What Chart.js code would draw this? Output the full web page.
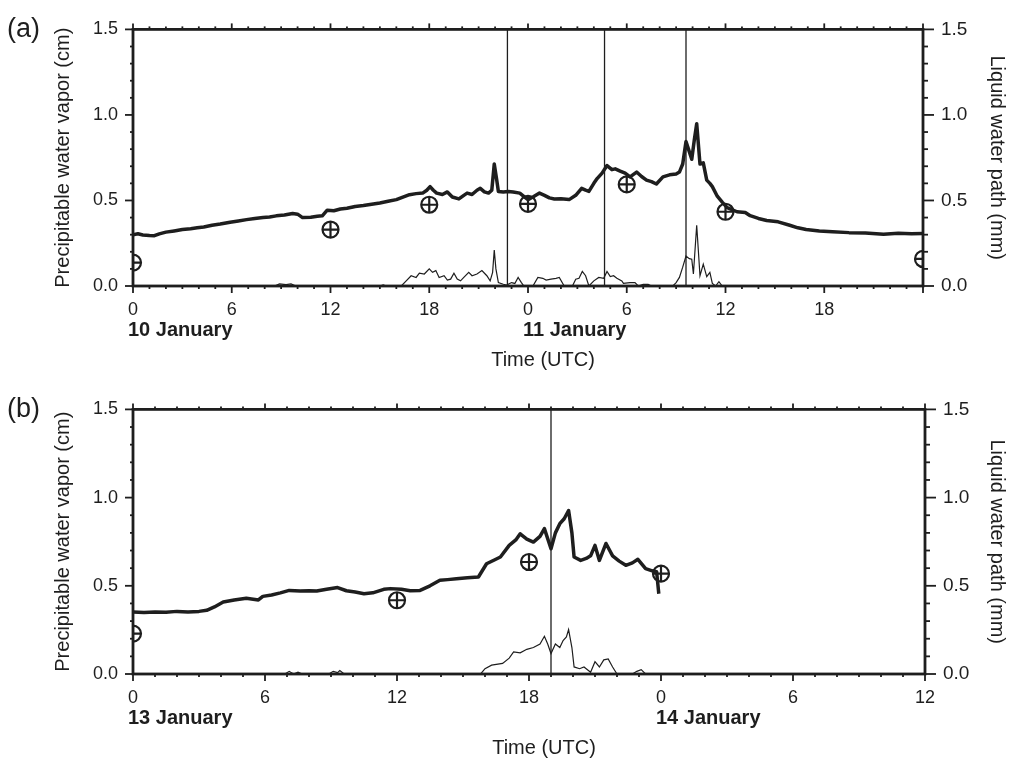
<!DOCTYPE html>
<html>
<head>
<meta charset="utf-8">
<title>Precipitable water vapor and liquid water path</title>
<script src="https://cdn.jsdelivr.net/npm/chart.js@4.4.1/dist/chart.umd.min.js"></script>
<style>
	body { margin: 0; background: #fff; }
	canvas { display: block; }
</style>
</head>
<body>
<canvas id="panelA" width="1009" height="380"></canvas>
<canvas id="panelB" width="1009" height="380"></canvas>
<script>
// (a) hours since 00 UTC 10 January
var pwvTimeA = [0, 0.3, 0.6, 1.0, 1.3, 1.6, 2.0, 2.5, 3.0, 3.5, 3.9, 4.3, 4.8, 5.3, 5.9, 6.4, 6.9, 7.4, 7.9, 8.3, 8.7, 9.2, 9.7, 10.0, 10.3, 10.8, 11.2, 11.5, 11.8, 12.2, 12.6, 13.0, 13.5, 14.0, 14.5, 15.0, 15.5, 16.0, 16.4, 16.8, 17.2, 17.6, 17.85, 18.05, 18.25, 18.45, 18.8, 19.1, 19.4, 19.8, 20.1, 20.3, 20.6, 20.9, 21.1, 21.35, 21.6, 21.8, 21.95, 22.1, 22.2, 22.5, 22.8, 23.1, 23.5, 23.8, 24.0, 24.3, 24.7, 25.0, 25.3, 25.6, 26.0, 26.5, 26.9, 27.26, 27.5, 27.7, 28.0, 28.2, 28.5, 28.8, 29.1, 29.3, 29.6, 29.9, 30.2, 30.6, 30.9, 31.2, 31.5, 31.8, 32.2, 32.6, 33.0, 33.2, 33.4, 33.6, 33.75, 33.95, 34.1, 34.25, 34.45, 34.65, 34.86, 35.05, 35.2, 35.5, 35.8, 36.1, 36.7, 37.2, 37.5, 38.0, 38.5, 39.2, 39.9, 40.4, 40.9, 41.7, 42.5, 43.5, 44.5, 45.6, 46.5, 47.3, 48.0];
var pwvA = [0.300, 0.305, 0.298, 0.295, 0.294, 0.305, 0.315, 0.322, 0.330, 0.335, 0.340, 0.345, 0.355, 0.362, 0.373, 0.380, 0.388, 0.395, 0.400, 0.403, 0.410, 0.415, 0.424, 0.420, 0.400, 0.402, 0.408, 0.410, 0.443, 0.440, 0.450, 0.455, 0.465, 0.470, 0.478, 0.485, 0.495, 0.505, 0.520, 0.534, 0.540, 0.543, 0.560, 0.581, 0.560, 0.543, 0.535, 0.550, 0.520, 0.509, 0.530, 0.543, 0.535, 0.560, 0.571, 0.550, 0.543, 0.560, 0.713, 0.620, 0.553, 0.550, 0.553, 0.550, 0.543, 0.520, 0.505, 0.520, 0.543, 0.530, 0.515, 0.509, 0.510, 0.505, 0.530, 0.571, 0.560, 0.553, 0.600, 0.628, 0.660, 0.704, 0.680, 0.685, 0.672, 0.660, 0.638, 0.666, 0.640, 0.619, 0.610, 0.596, 0.638, 0.650, 0.655, 0.666, 0.713, 0.845, 0.800, 0.741, 0.850, 0.949, 0.713, 0.720, 0.619, 0.600, 0.581, 0.525, 0.490, 0.458, 0.434, 0.430, 0.411, 0.395, 0.383, 0.375, 0.355, 0.340, 0.330, 0.322, 0.317, 0.312, 0.310, 0.302, 0.308, 0.305, 0.307];
var lwpTimeA = [0, 8.6, 8.9, 9.3, 9.6, 9.9, 15.0, 15.2, 15.4, 16.3, 16.6, 16.9, 17.2, 17.4, 17.7, 18.0, 18.2, 18.4, 18.6, 18.9, 19.1, 19.3, 19.5, 19.7, 19.9, 20.1, 20.4, 20.6, 20.9, 21.2, 21.5, 21.7, 21.85, 21.95, 22.05, 22.2, 22.5, 22.7, 23.0, 23.2, 23.4, 23.6, 23.75, 24.3, 24.6, 24.9, 25.1, 25.4, 25.7, 25.9, 26.2, 26.7, 26.9, 27.1, 27.3, 27.5, 27.7, 28.0, 28.3, 28.6, 28.8, 29.0, 29.2, 29.4, 29.7, 29.8, 30.2, 30.5, 30.7, 31.0, 31.3, 31.5, 32.8, 33.0, 33.2, 33.4, 33.6, 33.8, 33.95, 34.05, 34.25, 34.45, 34.65, 34.86, 35.05, 35.2, 35.4, 35.6, 35.8, 48];
var lwpA = [0, 0, 0.012, 0.008, 0.012, 0, 0, 0.006, 0, 0, 0.03, 0.06, 0.05, 0.075, 0.07, 0.10, 0.08, 0.09, 0.05, 0.06, 0.035, 0.04, 0.075, 0.04, 0.03, 0.05, 0.08, 0.06, 0.07, 0.09, 0.06, 0.03, 0.08, 0.21, 0.10, 0.02, 0.01, 0.005, 0.02, 0.015, 0.05, 0.02, 0, 0, 0.05, 0.045, 0.035, 0.04, 0.045, 0.05, 0, 0, 0.04, 0.045, 0.085, 0.06, 0, 0.03, 0.05, 0.045, 0.085, 0.055, 0.06, 0.045, 0.03, 0.015, 0.02, 0.02, 0, 0.01, 0.01, 0, 0, 0.02, 0.05, 0.11, 0.175, 0.16, 0.157, 0.07, 0.355, 0.06, 0.128, 0.055, 0.08, 0.015, 0, 0.025, 0, 0];
var sondeTimeA = [0, 12, 18, 24, 30, 36, 48];
var sondeA = [0.137, 0.33, 0.475, 0.48, 0.594, 0.434, 0.158];
var cloudLinesA = [22.75, 28.65, 33.6];
var xLabelsA = ['0', '6', '12', '18', '0', '6', '12', '18', ''];
var dayStartA = [0, 24];
var dayNamesA = ['10 January', '11 January'];

// (b) hours since 00 UTC 13 January
var pwvTimeB = [0, 0.5, 1.0, 1.5, 2.0, 2.5, 3.0, 3.35, 3.7, 4.1, 4.6, 5.15, 5.7, 5.9, 6.3, 6.7, 7.1, 7.6, 8.0, 8.35, 8.8, 9.3, 9.7, 10.1, 10.5, 10.9, 11.4, 11.7, 12.2, 12.6, 13.05, 13.5, 13.95, 14.3, 14.7, 15.2, 15.7, 16.07, 16.4, 16.7, 17.1, 17.4, 17.6, 17.9, 18.2, 18.5, 18.7, 19.0, 19.2, 19.4, 19.6, 19.8, 19.95, 20.05, 20.35, 20.6, 20.8, 21.0, 21.2, 21.5, 21.8, 22.1, 22.4, 22.7, 22.95, 23.3, 23.6, 23.8, 23.9];
var pwvB = [0.351, 0.348, 0.352, 0.350, 0.355, 0.352, 0.355, 0.361, 0.380, 0.408, 0.420, 0.430, 0.420, 0.440, 0.448, 0.460, 0.474, 0.470, 0.472, 0.470, 0.480, 0.490, 0.472, 0.465, 0.455, 0.460, 0.480, 0.484, 0.480, 0.472, 0.474, 0.500, 0.531, 0.535, 0.540, 0.545, 0.550, 0.625, 0.645, 0.663, 0.729, 0.760, 0.795, 0.765, 0.748, 0.780, 0.824, 0.710, 0.800, 0.852, 0.880, 0.927, 0.800, 0.663, 0.644, 0.655, 0.670, 0.729, 0.644, 0.740, 0.670, 0.640, 0.616, 0.630, 0.650, 0.597, 0.585, 0.580, 0.455];
var lwpTimeB = [0, 6.9, 7.1, 7.3, 7.5, 7.7, 8.9, 9.1, 9.3, 9.4, 9.6, 15.8, 16.0, 16.3, 16.8, 17.1, 17.3, 17.6, 17.9, 18.2, 18.5, 18.7, 18.85, 19.0, 19.2, 19.4, 19.55, 19.7, 19.8, 19.95, 20.05, 20.3, 20.5, 20.8, 21.0, 21.2, 21.4, 21.6, 21.8, 22.0, 22.7, 22.9, 23.1, 23.3];
var lwpB = [0, 0, 0.015, 0, 0.01, 0, 0, 0.015, 0.008, 0.02, 0, 0, 0.03, 0.05, 0.06, 0.09, 0.125, 0.12, 0.14, 0.15, 0.17, 0.214, 0.17, 0.116, 0.17, 0.15, 0.19, 0.21, 0.252, 0.15, 0.04, 0.03, 0.04, 0.01, 0.07, 0.04, 0.08, 0.085, 0.04, 0, 0, 0.015, 0.025, 0];
var sondeTimeB = [0, 12, 18, 24];
var sondeB = [0.229, 0.418, 0.635, 0.569];
var cloudLinesB = [19.0];
var xLabelsB = ['0', '6', '12', '18', '0', '6', '12'];
var dayStartB = [0, 24];
var dayNamesB = ['13 January', '14 January'];

var yLabels = ['0.0', '0.5', '1.0', '1.5'];

var INK = '#1e1e1e';
var FONT = '"Liberation Sans", Arial, Helvetica, sans-serif';

function pairs(xs, ys)
{
	return xs.map(function (x, i) { return {x: x, y: ys[i]}; });
}

function verticals(xs)
{
	var out = [];
	xs.forEach(function (x)
	{
		out.push({x: x, y: 0}, {x: x, y: 1.5}, {x: x, y: null});
	});
	return out;
}

// frame, hour / tenth ticks, day names, x title and panel letter
var frameTicks = {
	'id' : 'frameTicks',
	'afterDraw' : function (chart, args, opts)
	{
		var ctx = chart.ctx, area = chart.chartArea;
		var xs = chart.scales.x, ys = chart.scales.y;

		function seg(x1, y1, x2, y2)
		{
			ctx.beginPath();
			ctx.moveTo(x1, y1);
			ctx.lineTo(x2, y2);
			ctx.stroke();
		}

		ctx.save();
		ctx.strokeStyle = INK;
		ctx.lineWidth = 1.8;

		for (var h = xs.min; h <= xs.max; h++)
		{
			var px = xs.getPixelForValue(h);
			var major = h % 6 === 0;
			seg(px, area.bottom, px, area.bottom + (major ? 7 : 3));
			seg(px, area.top, px, area.top - (major ? 6 : 3));
		}
		for (var k = 0; k <= 15; k++)
		{
			var py = ys.getPixelForValue(k / 10);
			var big = k % 5 === 0;
			seg(area.left - (big ? 8 : 3), py, area.left, py);
			seg(area.right, py, area.right + (big ? 11 : 5), py);
		}

		ctx.lineWidth = 2.8;
		ctx.strokeRect(area.left, area.top, area.right - area.left, area.bottom - area.top);

		ctx.fillStyle = INK;
		ctx.textBaseline = 'alphabetic';
		ctx.textAlign = 'left';
		ctx.font = 'bold 20px ' + FONT;
		opts.dayStart.forEach(function (d, i)
		{
			ctx.fillText(opts.dayNames[i], xs.getPixelForValue(d) - 5, area.bottom + 50);
		});

		ctx.font = '20px ' + FONT;
		ctx.textAlign = 'center';
		ctx.fillText('Time (UTC)', (area.left + area.right) / 2 + 15, area.bottom + 80);

		ctx.font = '27px ' + FONT;
		ctx.textAlign = 'left';
		ctx.fillText(opts.letter, 7, area.top + 8);
		ctx.restore();
	}
};

function makePanel(id, cfg)
{
	var tickFont = {family: FONT, size: 18};
	var rightFont = {family: FONT, size: 19};
	var titleFont = {family: FONT, size: 20};

	return new Chart(document.getElementById(id), {
		'type' : 'line',
		'data' : {
			datasets : [
				{
					data : pairs(cfg.pwvTime, cfg.pwv),
					borderColor : INK,
					borderWidth : 3.5,
					borderJoinStyle : 'round',
					pointRadius : 0,
					yAxisID : 'y'
				},
				{
					data : pairs(cfg.lwpTime, cfg.lwp),
					borderColor : INK,
					borderWidth : 1.2,
					pointRadius : 0,
					yAxisID : 'y2'
				},
				{
					data : verticals(cfg.cloudLines),
					borderColor : INK,
					borderWidth : 1.3,
					pointRadius : 0,
					spanGaps : false,
					yAxisID : 'y'
				},
				{
					data : pairs(cfg.sondeTime, cfg.sonde),
					showLine : false,
					pointStyle : 'circle',
					pointRadius : 8,
					pointBorderWidth : 2.2,
					pointBorderColor : INK,
					pointBackgroundColor : 'rgba(0,0,0,0)',
					clip : 0,
					yAxisID : 'y'
				},
				{
					data : pairs(cfg.sondeTime, cfg.sonde),
					showLine : false,
					pointStyle : 'cross',
					pointRadius : 8,
					pointBorderWidth : 2.2,
					pointBorderColor : INK,
					clip : 0,
					yAxisID : 'y'
				}
			]
		},
		'options' : {
			responsive : false,
			animation : false,
			devicePixelRatio : 1,
			layout : {padding : {top : cfg.top, left : 0, right : 0, bottom : 0}},
			plugins : {
				legend : {display : false},
				tooltip : {enabled : false},
				frameTicks : {dayStart : cfg.dayStart, dayNames : cfg.dayNames, letter : cfg.letter}
			},
			scales : {
				x : {
					type : 'linear',
					position : 'bottom',
					min : 0,
					max : cfg.xMax,
					grid : {display : false, drawTicks : false},
					border : {display : false},
					ticks : {
						stepSize : 6,
						autoSkip : false,
						maxRotation : 0,
						padding : 13,
						color : INK,
						font : tickFont,
						callback : function (v, i) { return cfg.xLabels[i]; }
					},
					afterFit : function (s) { s.height = cfg.xHeight; }
				},
				y : {
					position : 'left',
					min : 0,
					max : 1.5,
					grid : {display : false, drawTicks : false},
					border : {display : false},
					ticks : {
						stepSize : 0.5,
						padding : 15,
						color : INK,
						font : tickFont,
						callback : function (v, i) { return yLabels[i]; }
					},
					title : {
						display : true,
						text : 'Precipitable water vapor (cm)',
						color : INK,
						font : titleFont,
						padding : {top : 51, bottom : 0}
					},
					afterFit : function (s) { s.width = 133; }
				},
				y2 : {
					position : 'right',
					min : 0,
					max : 1.5,
					grid : {display : false, drawTicks : false},
					border : {display : false},
					ticks : {
						stepSize : 0.5,
						padding : 18,
						color : INK,
						font : rightFont,
						callback : function (v, i) { return yLabels[i]; }
					},
					title : {
						display : true,
						text : 'Liquid water path (mm)',
						color : INK,
						font : titleFont,
						padding : {top : 0, bottom : 0}
					},
					afterFit : function (s) { s.width = cfg.rightWidth; }
				}
			}
		},
		'plugins' : [frameTicks]
	});
}

makePanel('panelA', {
	pwvTime : pwvTimeA, pwv : pwvA, lwpTime : lwpTimeA, lwp : lwpA,
	sondeTime : sondeTimeA, sonde : sondeA, cloudLines : cloudLinesA,
	xLabels : xLabelsA, dayStart : dayStartA, dayNames : dayNamesA,
	xMax : 48, top : 21, xHeight : 94, rightWidth : 86, letter : '(a)'
});

makePanel('panelB', {
	pwvTime : pwvTimeB, pwv : pwvB, lwpTime : lwpTimeB, lwp : lwpB,
	sondeTime : sondeTimeB, sonde : sondeB, cloudLines : cloudLinesB,
	xLabels : xLabelsB, dayStart : dayStartB, dayNames : dayNamesB,
	xMax : 36, top : 29, xHeight : 86, rightWidth : 84, letter : '(b)'
});
</script>
</body>
</html>
